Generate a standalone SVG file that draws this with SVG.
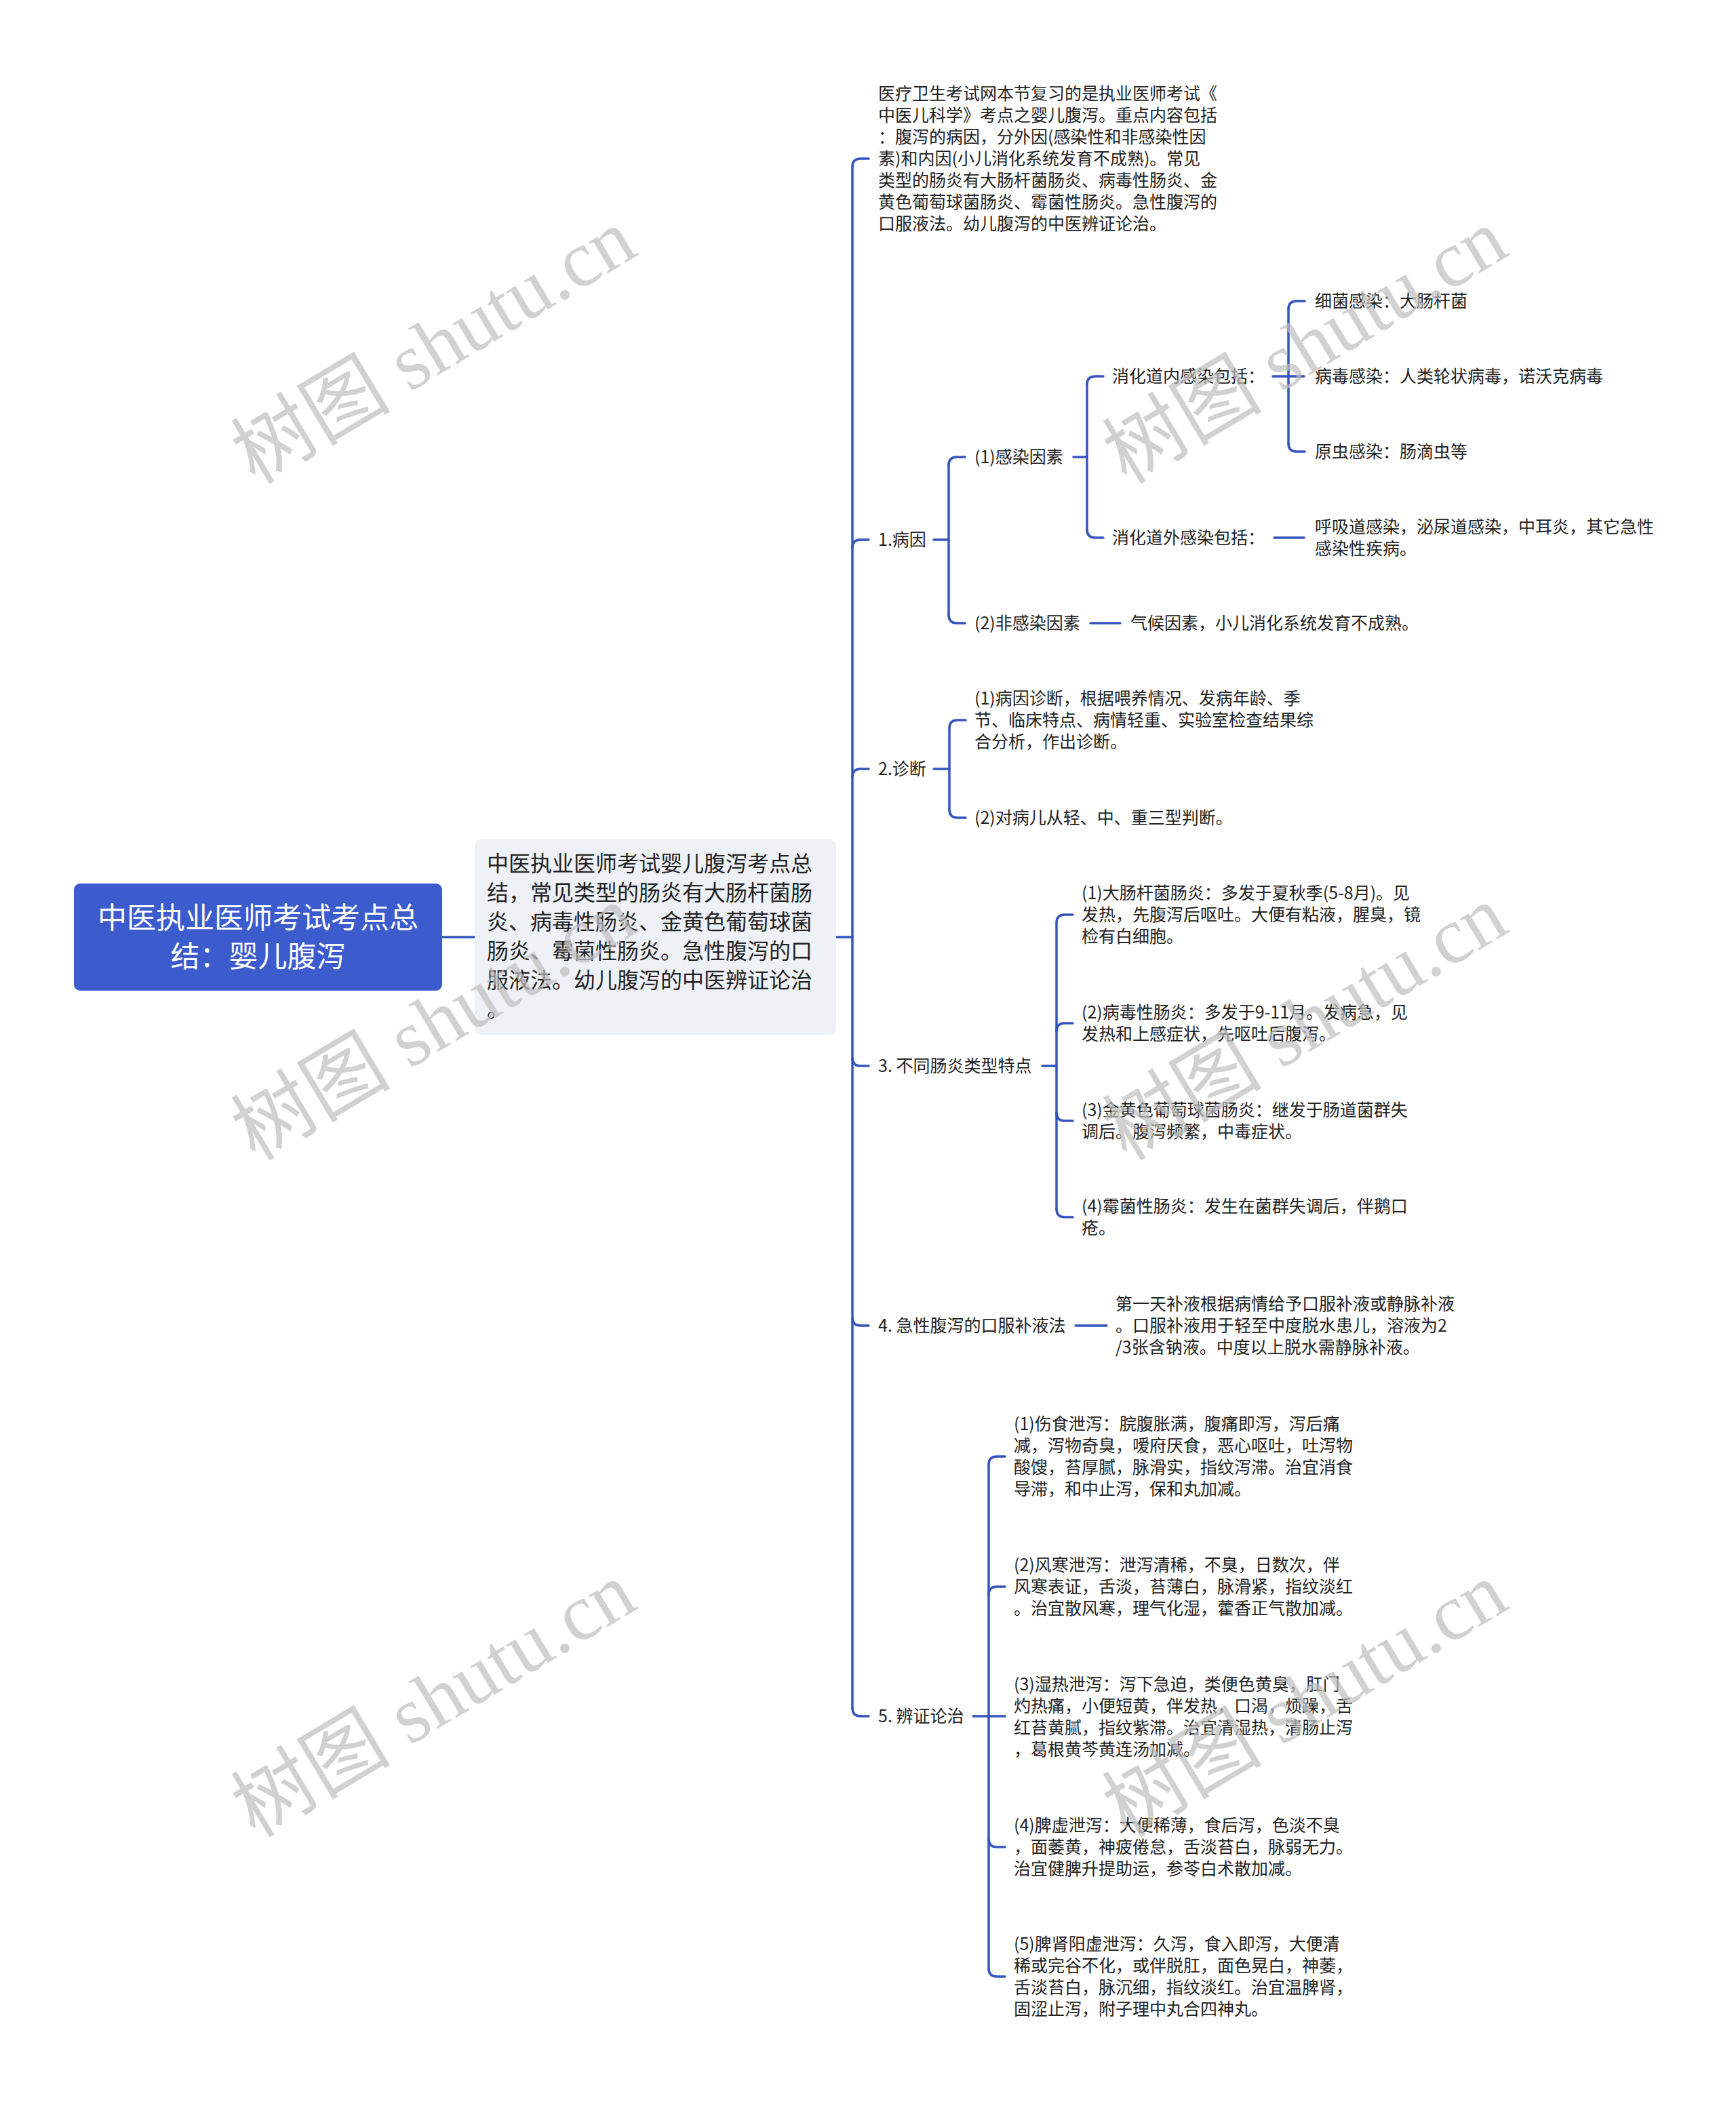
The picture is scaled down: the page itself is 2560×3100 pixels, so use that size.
<svg xmlns="http://www.w3.org/2000/svg" width="2560" height="3100" viewBox="0 0 2560 3100">
<style>
text{font-family:"Noto Sans CJK SC","Noto Sans",sans-serif;fill:#222222}
.t{font-size:25px}
.sum{font-size:32px}
.root{font-size:43px;fill:#ffffff;text-anchor:middle}
.c{fill:none;stroke:#3554be;stroke-width:3.5;stroke-linecap:round}
.wm{font-family:"Liberation Serif","Noto Sans CJK SC",serif;font-size:118px;fill:#bdbdbd;fill-opacity:0.7;text-anchor:middle}
</style>
<rect x="0" y="0" width="2560" height="3100" fill="#ffffff"/>

<g id="connectors">
<path class="c" d="M652,1382 H700"/>
<path class="c" d="M1233,1382 H1257"/>
<path class="c" d="M1257,246 V2519"/>
<path class="c" d="M1257,246 Q1257,234 1269,234 H1281"/>
<path class="c" d="M1257,808 Q1257,796 1269,796 H1281"/>
<path class="c" d="M1257,1146 Q1257,1134 1269,1134 H1281"/>
<path class="c" d="M1257,1560 Q1257,1572 1269,1572 H1281"/>
<path class="c" d="M1257,1943 Q1257,1955 1269,1955 H1281"/>
<path class="c" d="M1257,2519 Q1257,2531 1269,2531 H1281"/>

<path class="c" d="M1377,796 H1399"/>
<path class="c" d="M1399,685 V907"/>
<path class="c" d="M1399,686 Q1399,674 1411,674 H1423"/>
<path class="c" d="M1399,907 Q1399,919 1411,919 H1423"/>

<path class="c" d="M1583,674 H1603"/>
<path class="c" d="M1603,567 V781"/>
<path class="c" d="M1603,567 Q1603,555 1615,555 H1627"/>
<path class="c" d="M1603,781 Q1603,793 1615,793 H1627"/>

<path class="c" d="M1877,555 H1923"/>
<path class="c" d="M1900,456 V654"/>
<path class="c" d="M1900,456 Q1900,444 1912,444 H1924"/>
<path class="c" d="M1900,654 Q1900,666 1912,666 H1924"/>

<path class="c" d="M1879,793 H1923"/>
<path class="c" d="M1608,919 H1652"/>

<path class="c" d="M1377,1134 H1400"/>
<path class="c" d="M1400,1074 V1194"/>
<path class="c" d="M1400,1074 Q1400,1062 1412,1062 H1424"/>
<path class="c" d="M1400,1194 Q1400,1206 1412,1206 H1424"/>

<path class="c" d="M1537,1572 H1558"/>
<path class="c" d="M1558,1361 V1783"/>
<path class="c" d="M1558,1361 Q1558,1349 1570,1349 H1582"/>
<path class="c" d="M1558,1521 Q1558,1509 1570,1509 H1582"/>
<path class="c" d="M1558,1641 Q1558,1653 1570,1653 H1582"/>
<path class="c" d="M1558,1783 Q1558,1795 1570,1795 H1582"/>

<path class="c" d="M1586,1955 H1632"/>

<path class="c" d="M1435,2531 H1482"/>
<path class="c" d="M1458,2160 V2903"/>
<path class="c" d="M1458,2160 Q1458,2148 1470,2148 H1482"/>
<path class="c" d="M1458,2352 Q1458,2340 1470,2340 H1482"/>
<path class="c" d="M1458,2712 Q1458,2724 1470,2724 H1482"/>
<path class="c" d="M1458,2903 Q1458,2915 1470,2915 H1482"/>
</g>

<g id="root">
<rect x="109" y="1303" width="543" height="158" rx="9" fill="#3c5bcc"/>
<text class="root"><tspan x="380.5" y="1369">中医执业医师考试考点总</tspan><tspan x="380.5" y="1426">结：婴儿腹泻</tspan></text>
</g>

<g id="summary">
<rect x="700" y="1238" width="533" height="288" rx="10" fill="#eef1f5"/>
<text class="sum">
<tspan x="718" y="1284.5">中医执业医师考试婴儿腹泻考点总</tspan>
<tspan x="718" y="1327.5">结，常见类型的肠炎有大肠杆菌肠</tspan>
<tspan x="718" y="1370.5">炎、病毒性肠炎、金黄色葡萄球菌</tspan>
<tspan x="718" y="1413.5">肠炎、霉菌性肠炎。急性腹泻的口</tspan>
<tspan x="718" y="1456.5">服液法。幼儿腹泻的中医辨证论治</tspan>
<tspan x="718" y="1499.5">。</tspan>
</text>
</g>

<g id="intro">
<text class="t">
<tspan x="1295" y="147">医疗卫生考试网本节复习的是执业医师考试《</tspan>
<tspan x="1295" y="179">中医儿科学》考点之婴儿腹泻。重点内容包括</tspan>
<tspan x="1295" y="211">：腹泻的病因，分外因(感染性和非感染性因</tspan>
<tspan x="1295" y="243">素)和内因(小儿消化系统发育不成熟)。常见</tspan>
<tspan x="1295" y="275">类型的肠炎有大肠杆菌肠炎、病毒性肠炎、金</tspan>
<tspan x="1295" y="307">黄色葡萄球菌肠炎、霉菌性肠炎。急性腹泻的</tspan>
<tspan x="1295" y="339">口服液法。幼儿腹泻的中医辨证论治。</tspan>
</text>
</g>

<g id="n1"><text class="t" x="1295" y="805">1.病因</text></g>
<g id="n1-1"><text class="t" x="1437" y="683">(1)感染因素</text></g>
<g id="n1-1-1"><text class="t" x="1640" y="564">消化道内感染包括：</text></g>
<g id="n1-1-1-1"><text class="t" x="1939" y="453">细菌感染：大肠杆菌</text></g>
<g id="n1-1-1-2"><text class="t" x="1939" y="564">病毒感染：人类轮状病毒，诺沃克病毒</text></g>
<g id="n1-1-1-3"><text class="t" x="1939" y="675">原虫感染：肠滴虫等</text></g>
<g id="n1-1-2"><text class="t" x="1640" y="802">消化道外感染包括：</text></g>
<g id="n1-1-2-1"><text class="t"><tspan x="1939" y="786">呼吸道感染，泌尿道感染，中耳炎，其它急性</tspan><tspan x="1939" y="818">感染性疾病。</tspan></text></g>
<g id="n1-2"><text class="t" x="1437" y="928">(2)非感染因素</text></g>
<g id="n1-2-1"><text class="t" x="1667" y="928">气候因素，小儿消化系统发育不成熟。</text></g>

<g id="n2"><text class="t" x="1295" y="1143">2.诊断</text></g>
<g id="n2-1"><text class="t"><tspan x="1437" y="1039">(1)病因诊断，根据喂养情况、发病年龄、季</tspan><tspan x="1437" y="1071">节、临床特点、病情轻重、实验室检查结果综</tspan><tspan x="1437" y="1103">合分析，作出诊断。</tspan></text></g>
<g id="n2-2"><text class="t" x="1437" y="1215">(2)对病儿从轻、中、重三型判断。</text></g>

<g id="n3"><text class="t" x="1295" y="1581">3. 不同肠炎类型特点</text></g>
<g id="n3-1"><text class="t"><tspan x="1595" y="1326">(1)大肠杆菌肠炎：多发于夏秋季(5-8月)。见</tspan><tspan x="1595" y="1358">发热，先腹泻后呕吐。大便有粘液，腥臭，镜</tspan><tspan x="1595" y="1390">检有白细胞。</tspan></text></g>
<g id="n3-2"><text class="t"><tspan x="1595" y="1502">(2)病毒性肠炎：多发于9-11月。发病急，见</tspan><tspan x="1595" y="1534">发热和上感症状，先呕吐后腹泻。</tspan></text></g>
<g id="n3-3"><text class="t"><tspan x="1595" y="1646">(3)金黄色葡萄球菌肠炎：继发于肠道菌群失</tspan><tspan x="1595" y="1678">调后。腹泻频繁，中毒症状。</tspan></text></g>
<g id="n3-4"><text class="t"><tspan x="1595" y="1788">(4)霉菌性肠炎：发生在菌群失调后，伴鹅口</tspan><tspan x="1595" y="1820">疮。</tspan></text></g>

<g id="n4"><text class="t" x="1295" y="1964">4. 急性腹泻的口服补液法</text></g>
<g id="n4-1"><text class="t"><tspan x="1645" y="1932">第一天补液根据病情给予口服补液或静脉补液</tspan><tspan x="1645" y="1964">。口服补液用于轻至中度脱水患儿，溶液为2</tspan><tspan x="1645" y="1996">/3张含钠液。中度以上脱水需静脉补液。</tspan></text></g>

<g id="n5"><text class="t" x="1295" y="2540">5. 辨证论治</text></g>
<g id="n5-1"><text class="t"><tspan x="1495" y="2109">(1)伤食泄泻：脘腹胀满，腹痛即泻，泻后痛</tspan><tspan x="1495" y="2141">减，泻物奇臭，嗳府厌食，恶心呕吐，吐泻物</tspan><tspan x="1495" y="2173">酸馊，苔厚腻，脉滑实，指纹泻滞。治宜消食</tspan><tspan x="1495" y="2205">导滞，和中止泻，保和丸加减。</tspan></text></g>
<g id="n5-2"><text class="t"><tspan x="1495" y="2317">(2)风寒泄泻：泄泻清稀，不臭，日数次，伴</tspan><tspan x="1495" y="2349">风寒表证，舌淡，苔薄白，脉滑紧，指纹淡红</tspan><tspan x="1495" y="2381">。治宜散风寒，理气化湿，藿香正气散加减。</tspan></text></g>
<g id="n5-3"><text class="t"><tspan x="1495" y="2493">(3)湿热泄泻：泻下急迫，类便色黄臭，肛门</tspan><tspan x="1495" y="2525">灼热痛，小便短黄，伴发热，口渴，烦躁，舌</tspan><tspan x="1495" y="2557">红苔黄腻，指纹紫滞。治宜清湿热，清肠止泻</tspan><tspan x="1495" y="2589">，葛根黄芩黄连汤加减。</tspan></text></g>
<g id="n5-4"><text class="t"><tspan x="1495" y="2701">(4)脾虚泄泻：大便稀薄，食后泻，色淡不臭</tspan><tspan x="1495" y="2733">，面萎黄，神疲倦怠，舌淡苔白，脉弱无力。</tspan><tspan x="1495" y="2765">治宜健脾升提助运，参苓白术散加减。</tspan></text></g>
<g id="n5-5"><text class="t"><tspan x="1495" y="2876">(5)脾肾阳虚泄泻：久泻，食入即泻，大便清</tspan><tspan x="1495" y="2908">稀或完谷不化，或伴脱肛，面色晃白，神萎，</tspan><tspan x="1495" y="2940">舌淡苔白，脉沉细，指纹淡红。治宜温脾肾，</tspan><tspan x="1495" y="2972">固涩止泻，附子理中丸合四神丸。</tspan></text></g>

<g id="watermarks">
<text class="wm" transform="translate(660,545) rotate(-31)">树图 shutu.cn</text>
<text class="wm" transform="translate(1945,545) rotate(-31)">树图 shutu.cn</text>
<text class="wm" transform="translate(660,1543) rotate(-31)">树图 shutu.cn</text>
<text class="wm" transform="translate(1945,1543) rotate(-31)">树图 shutu.cn</text>
<text class="wm" transform="translate(660,2541) rotate(-31)">树图 shutu.cn</text>
<text class="wm" transform="translate(1945,2541) rotate(-31)">树图 shutu.cn</text>
</g>
</svg>
